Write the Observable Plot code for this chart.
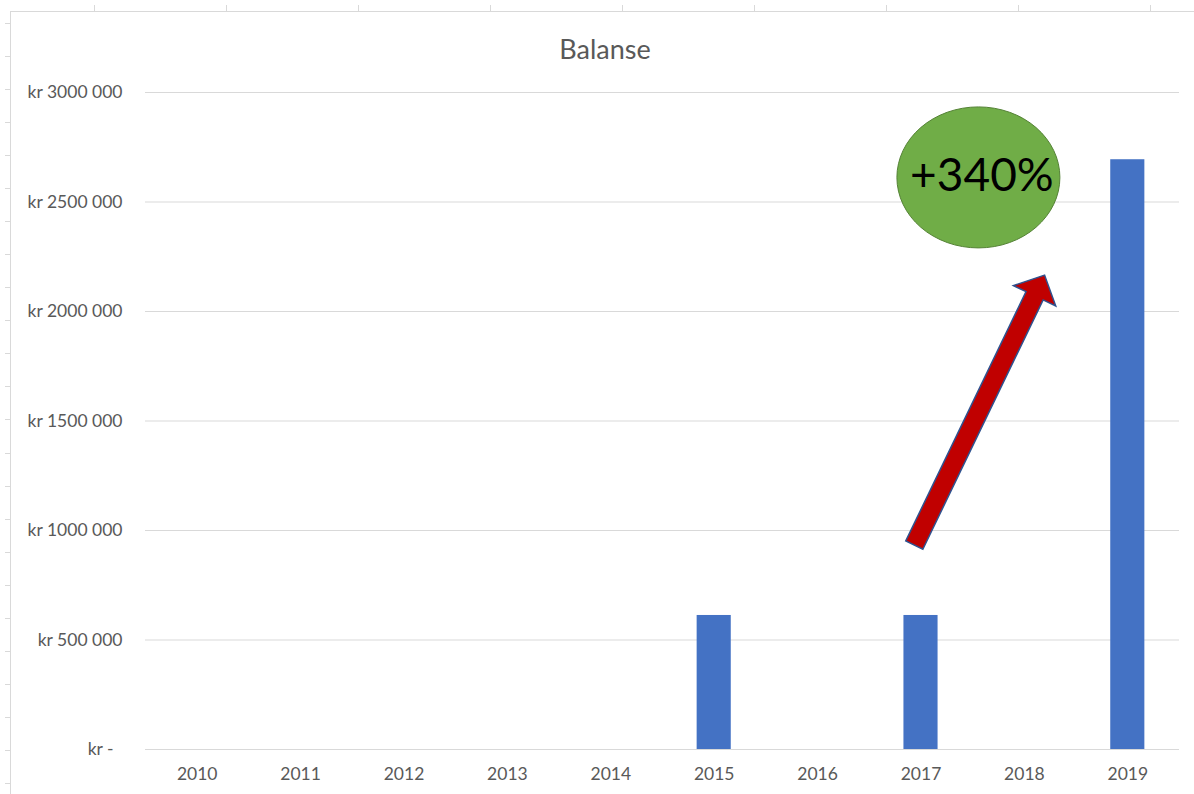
<!DOCTYPE html>
<html><head><meta charset="utf-8">
<script src="https://cdn.jsdelivr.net/npm/d3@7"></script>
<script src="https://cdn.jsdelivr.net/npm/@observablehq/plot@0.6"></script>
<style>
html,body{margin:0;padding:0;background:#fff;}
#wrap{position:relative;width:1194px;height:794px;overflow:hidden;font-family:Lato,sans-serif;background:#fff;}
.line-h{position:absolute;border-top:1px solid #d9d9d9;height:0;}
.line-v{position:absolute;border-left:1px solid #d9d9d9;width:0;}
#title{position:absolute;top:33px;left:10px;width:1190px;text-align:center;font-size:27px;color:#595959;line-height:32px;}
#chart{position:absolute;left:0;top:0;}
</style></head><body>
<div id="wrap"><div id="title">Balanse</div><div id="chart"></div></div>
<script>
// ---- data ----
const years = [2010, 2011, 2012, 2013, 2014, 2015, 2016, 2017, 2018, 2019];
const balances = [0, 0, 0, 0, 0, 612000, 0, 612000, 0, 2693000];
const yTicks = [0, 500000, 1000000, 1500000, 2000000, 2500000, 3000000];
const calloutText = ["+340%"];
const calloutX = [2017.56];
const calloutY = [2610000];
const arrowFrom = [2016.94, 931000];
const arrowTo = [2018.20, 2164000];

const data = years.map((year, i) => ({year, value: balances[i]}));
const callout = calloutText.map((t, i) => ({text: t, x: calloutX[i], y: calloutY[i]}));

// ---- spreadsheet decoration ----
const wrap = document.getElementById("wrap");
function addDiv(cls, style) { const d = document.createElement("div"); d.className = cls; Object.assign(d.style, style); wrap.insertBefore(d, wrap.firstChild); }
addDiv("line-h", {left: "10px", top: "11px", width: "1184px"});
addDiv("line-v", {left: "10px", top: "11px", height: "783px"});
for (let x = 94; x < 1194; x += 132) addDiv("line-v", {left: x + "px", top: "5px", height: "6px"});
for (let y = 23; y < 794; y += 33.04) addDiv("line-h", {left: "5px", top: Math.round(y) + "px", width: "5px"});

// ---- custom marks ----
function ellipseMark(rows) {
  return (index, scales) => {
    const g = d3.create("svg:g");
    for (const d of rows) {
      g.append("ellipse")
        .attr("cx", scales.x(d.x)).attr("cy", scales.y(d.y))
        .attr("rx", 81.5).attr("ry", 70.5)
        .attr("fill", "#70ad47").attr("stroke", "#548235").attr("stroke-width", 1);
    }
    return g.node();
  };
}
function blockArrow(from, to) {
  return (index, scales) => {
    const tx = scales.x(from[0]), ty = scales.y(from[1]);
    const px = scales.x(to[0]), py = scales.y(to[1]);
    const L = Math.hypot(px - tx, py - ty);
    const ux = (px - tx) / L, uy = (py - ty) / L;
    const nx = -uy, ny = ux;
    const w = 19 / 2, hw = 47 / 2, hl = 23;
    const bx = px - ux * hl, by = py - uy * hl;
    const pts = [
      [tx + nx * w, ty + ny * w], [bx + nx * w, by + ny * w], [bx + nx * hw, by + ny * hw],
      [px, py], [bx - nx * hw, by - ny * hw], [bx - nx * w, by - ny * w], [tx - nx * w, ty - ny * w]
    ];
    const g = d3.create("svg:g");
    g.append("polygon").attr("points", pts.map(p => p.join(",")).join(" "))
      .attr("fill", "#c00000").attr("stroke", "#2f528f").attr("stroke-width", 1.5)
      .attr("stroke-linejoin", "miter");
    return g.node();
  };
}

const fmt = d => d === 0 ? "kr -\u00a0\u00a0" : "kr " + (d / 1000) + " 000";

const chart = Plot.plot({
  width: 1194, height: 794,
  marginLeft: 145, marginRight: 15, marginTop: 92, marginBottom: 45,
  style: {fontFamily: "Lato, sans-serif", fontSize: "17.5px", color: "#595959", background: "transparent"},
  x: {domain: [2009.5, 2019.5], axis: null, label: null},
  y: {domain: [0, 3000000], axis: null, label: null},
  marks: [
    Plot.gridY(yTicks, {stroke: "#d9d9d9", strokeOpacity: 1, strokeWidth: 1}),
    Plot.axisY(yTicks, {tickSize: 0, tickPadding: 23, tickFormat: fmt, fill: "#595959", label: null}),
    Plot.axisX(years, {tickSize: 0, tickPadding: 18, tickFormat: d => String(d), fill: "#595959", label: null}),
    Plot.rect(data, {x1: d => d.year - 0.165, x2: d => d.year + 0.165, y1: 0, y2: "value", fill: "#4472c4"}),
    blockArrow(arrowFrom, arrowTo),
    ellipseMark(callout),
    Plot.text(callout, {x: "x", y: "y", text: "text", fontSize: 46, fill: "#000", dx: 3, dy: -2,
      fontFamily: "Lato, sans-serif", style: "text-shadow:1px 1px 2px rgba(0,0,0,0.35)"})
  ]
});
document.getElementById("chart").appendChild(chart);
</script>
</body></html>
